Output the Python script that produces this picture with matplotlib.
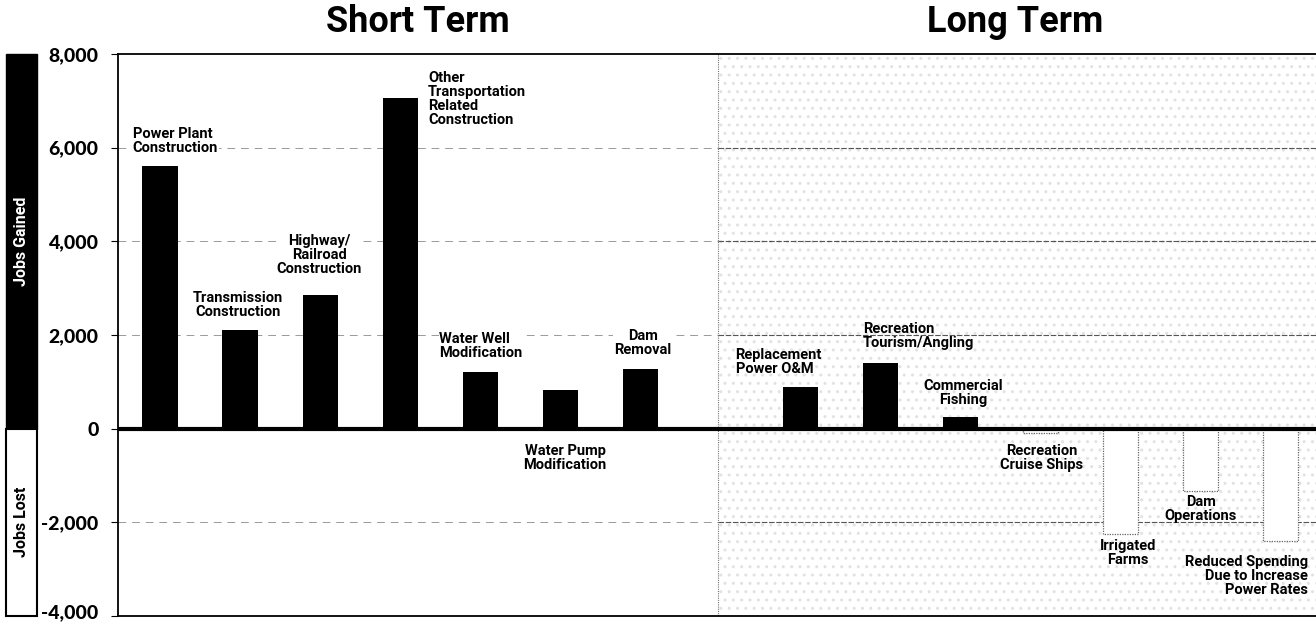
import matplotlib
matplotlib.use("Agg")
import matplotlib.pyplot as plt
from matplotlib.patches import Rectangle
import matplotlib.transforms as mtransforms

# ---------------- data ----------------
short_labels = ["Power Plant\nConstruction", "Transmission\nConstruction",
                "Highway/\nRailroad\nConstruction",
                "Other\nTransportation\nRelated\nConstruction",
                "Water Well\nModification", "Water Pump\nModification",
                "Dam\nRemoval"]
short_values = [5600, 2100, 2850, 7050, 1200, 830, 1280]

long_labels = ["Replacement\nPower O&M", "Recreation\nTourism/Angling",
               "Commercial\nFishing", "Recreation\nCruise Ships",
               "Irrigated\nFarms", "Dam\nOperations",
               "Reduced Spending\nDue to Increase\nPower Rates"]
long_values = [900, 1400, 250, -100, -2250, -1340, -2400]

y_ticks = [8000, 6000, 4000, 2000, 0, -2000, -4000]
y_tick_labels = ["8,000", "6,000", "4,000", "2,000", "0", "-2,000", "-4,000"]
panel_titles = ["Short Term", "Long Term"]
side_labels = ["Jobs Gained", "Jobs Lost"]

# label anchor positions (x in bar slots, y in jobs) and alignment
short_label_pos = [(-0.34, 6450, "left"), (0.975, 2940, "center"), (1.99, 4150, "center"),
                   (3.35, 7640, "left"), (3.49, 2070, "left"), (5.06, -320, "center"),
                   (6.03, 2130, "center")]
long_label_pos = [(7.19, 1730, "left"), (8.78, 2280, "left"), (10.03, 1050, "center"),
                  (11.01, -320, "center"), (12.09, -2360, "center"), (13.0, -1420, "center"),
                  (14.34, -2700, "right")]

# ---------------- figure ----------------
W, H = 1316, 623
fig = plt.figure(figsize=(W / 100, H / 100), dpi=100)
ax = fig.add_axes([118 / W, 1 - 616 / H, (1316 - 118) / W, (616 - 54) / H])

COND = ["Roboto", "DejaVu Sans"]
HEAVY = ["Lato", "DejaVu Sans"]

short_x = list(range(len(short_values)))
long_x = [len(short_values) + 1 + i for i in range(len(long_values))]

ax.set_xlim(-0.525, 14.44)
ax.set_ylim(-4000, 8000)

# long-term shaded (stippled) region
ax.axvspan(6.97, 14.44, facecolor="white", edgecolor="#e2e2e2", hatch="..",
           linewidth=0, zorder=0)
ax.axvline(6.97, color="#777777", lw=0.8, ls=(0, (1, 1)), zorder=1)

# gridlines
for yv in [6000, 4000, 2000, -2000]:
    ax.hlines(yv, -0.525, 6.97, colors="#999999", lw=0.7, ls=(0, (8, 6)), zorder=1)
    ax.hlines(yv, 6.97, 14.44, colors="#555555", lw=0.8, ls=(0, (5, 1.5)), zorder=1)

bw = 0.44
# bars
ax.bar(short_x, short_values, width=bw, color="black", zorder=3)
pos_long = [(x, v) for x, v in zip(long_x, long_values) if v > 0]
neg_long = [(x, v) for x, v in zip(long_x, long_values) if v <= 0]
ax.bar([p[0] for p in pos_long], [p[1] for p in pos_long], width=bw, color="black", zorder=3)
ax.bar([p[0] for p in neg_long], [p[1] for p in neg_long], width=bw, facecolor="white",
       edgecolor="#666666", linewidth=0.9, linestyle=(0, (1, 1)), zorder=3)

# zero line
ax.axhline(0, color="black", lw=3, zorder=4)

# labels
for txt, (x, y, ha) in zip(short_labels, short_label_pos):
    ax.text(x, y, txt, ha=ha, va="top", fontsize=10.5, fontweight="bold",
            family=COND, linespacing=1.0, zorder=5,
            bbox=dict(facecolor="white", edgecolor="none", pad=0.5))
for txt, (x, y, ha) in zip(long_labels, long_label_pos):
    ax.text(x, y, txt, ha=ha, va="top", fontsize=10.5, fontweight="bold",
            family=COND, linespacing=1.0, zorder=5, multialignment=ha)

# axes styling
ax.set_xticks([])
ax.set_yticks(y_ticks)
ax.set_yticklabels(y_tick_labels, family=HEAVY, fontweight="black", fontsize=14)
ax.tick_params(axis="y", length=5, width=0.8, pad=9, direction="out")
# keep the bottom tick label inside the canvas
bottom_lbl = ax.get_yticklabels()[-1]
bottom_lbl.set_transform(bottom_lbl.get_transform() +
                         mtransforms.ScaledTranslation(0, 5 / 100, fig.dpi_scale_trans))
for s in ["left", "top", "bottom"]:
    ax.spines[s].set_linewidth(1.3)
    ax.spines[s].set_color("black")
ax.spines["right"].set_visible(False)

# panel titles
fig.text(418 / W, 1 - 22 / H, panel_titles[0], ha="center", va="center",
         fontsize=26, fontweight="bold", family=COND)
fig.text(1015 / W, 1 - 22 / H, panel_titles[1], ha="center", va="center",
         fontsize=26, fontweight="bold", family=COND)

# side boxes
trans = mtransforms.blended_transform_factory(fig.transFigure, ax.transData)
bx0, bw_box = 6 / W, 31 / W
ax.add_patch(Rectangle((bx0, 0), bw_box, 8000, transform=trans, facecolor="black",
                       edgecolor="black", lw=1, clip_on=False))
ax.add_patch(Rectangle((bx0, -4000), bw_box, 4000, transform=trans, facecolor="white",
                       edgecolor="black", lw=1.5, clip_on=False))
ax.text(bx0 + bw_box / 2, 4000, side_labels[0], transform=trans, rotation=90,
        ha="center", va="center", color="white", fontsize=11.5, fontweight="bold",
        family=COND)
ax.text(bx0 + bw_box / 2, -2000, side_labels[1], transform=trans, rotation=90,
        ha="center", va="center", color="black", fontsize=11.5, fontweight="bold",
        family=COND)

fig.savefig("out.png", dpi=100)
